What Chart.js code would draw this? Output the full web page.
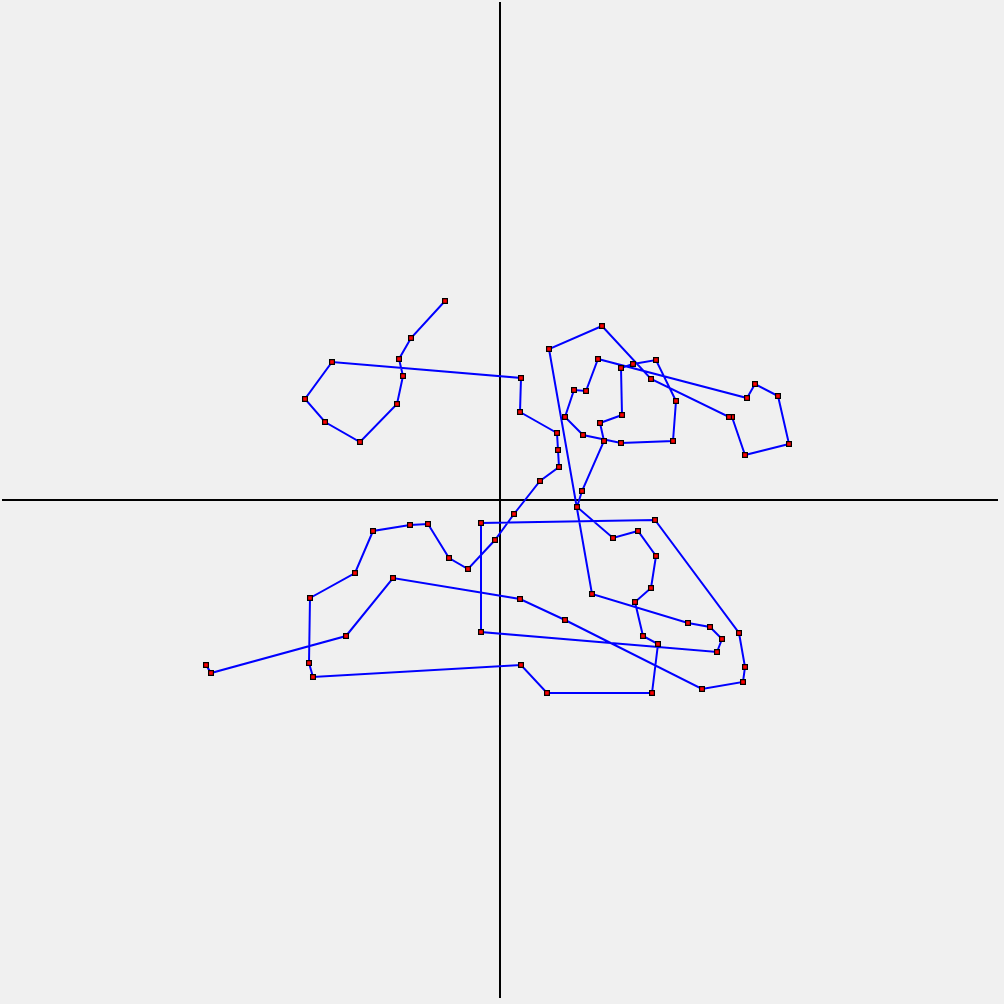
<!DOCTYPE html>
<html>
<head>
<meta charset="utf-8">
<script src="https://cdn.jsdelivr.net/npm/chart.js@4.4.1/dist/chart.umd.min.js"></script>
<style>
  html, body { margin: 0; padding: 0; background: #f0f0f0; }
  #wrap { width: 1004px; height: 1004px; }
</style>
</head>
<body>
<div id="wrap"><canvas id="pathChart" width="1004" height="1004"></canvas></div>
<script>
// path points, in order (x right, y up, origin at the crossing of the axes)
const pathX = [
  -55, -89, -101, -97, -103, -140, -175, -195, -168, 21,
  20, 57, 58, 59, 40, 14, -5, -32, -51, -72,
  -90, -127, -145, -190, -191, -187, 21, 47, 152, 158,
  143, 135, 151, 156, 138, 113, 77, 82, 104, 100,
  122, 121, 133, 156, 176, 173, 121, 83, 65, 74,
  86, 98, 247, 255, 278, 289, 245, 232, 229, 151,
  102, 49, 92, 188, 210, 222, 217, -19, -19, 155,
  239, 245, 243, 202, 65, 20, -107, -154, -289, -294
];
const pathY = [
  199, 162, 141, 124, 96, 58, 78, 101, 138, 122,
  88, 67, 50, 33, 19, -14, -40, -69, -58, -24,
  -25, -31, -73, -98, -163, -177, -165, -193, -193, -144,
  -136, -102, -88, -56, -31, -38, -7, 9, 59, 77,
  85, 132, 136, 140, 99, 59, 57, 65, 83, 110,
  109, 141, 102, 116, 104, 56, 45, 83, 83, 121,
  174, 151, -94, -123, -127, -139, -152, -132, -23, -20,
  -133, -167, -182, -189, -120, -99, -78, -136, -173, -165
];
const axisExtent = 498;

const points = pathX.map((x, i) => ({ x: x, y: pathY[i] }));

// plain black cross through the origin
const crossAxes = {
  id: 'crossAxes',
  beforeDatasetsDraw(chart) {
    const { ctx, scales: { x, y } } = chart;
    const x0 = x.getPixelForValue(0);
    const y0 = y.getPixelForValue(0);
    ctx.save();
    ctx.strokeStyle = '#000000';
    ctx.lineWidth = 2;
    ctx.beginPath();
    ctx.moveTo(x.getPixelForValue(-axisExtent), y0);
    ctx.lineTo(x.getPixelForValue(axisExtent), y0);
    ctx.moveTo(x0, y.getPixelForValue(axisExtent));
    ctx.lineTo(x0, y.getPixelForValue(-axisExtent));
    ctx.stroke();
    ctx.restore();
  }
};

new Chart(document.getElementById('pathChart').getContext('2d'), {
  type: 'scatter',
  data: {
    datasets: [{
      data: points,
      showLine: true,
      borderColor: '#0000ff',
      borderWidth: 2,
      tension: 0,
      pointStyle: 'rect',
      pointRadius: 3.4,
      pointBorderWidth: 1.2,
      pointBorderColor: '#000000',
      pointBackgroundColor: '#ff0000',
      pointHoverRadius: 3.4
    }]
  },
  options: {
    responsive: false,
    devicePixelRatio: 1,
    animation: false,
    layout: { padding: 0, autoPadding: false },
    plugins: { legend: { display: false }, tooltip: { enabled: false } },
    events: [],
    scales: {
      x: { type: 'linear', min: -500, max: 504, display: false },
      y: { type: 'linear', min: -504, max: 500, display: false }
    }
  },
  plugins: [crossAxes]
});
</script>
</body>
</html>
